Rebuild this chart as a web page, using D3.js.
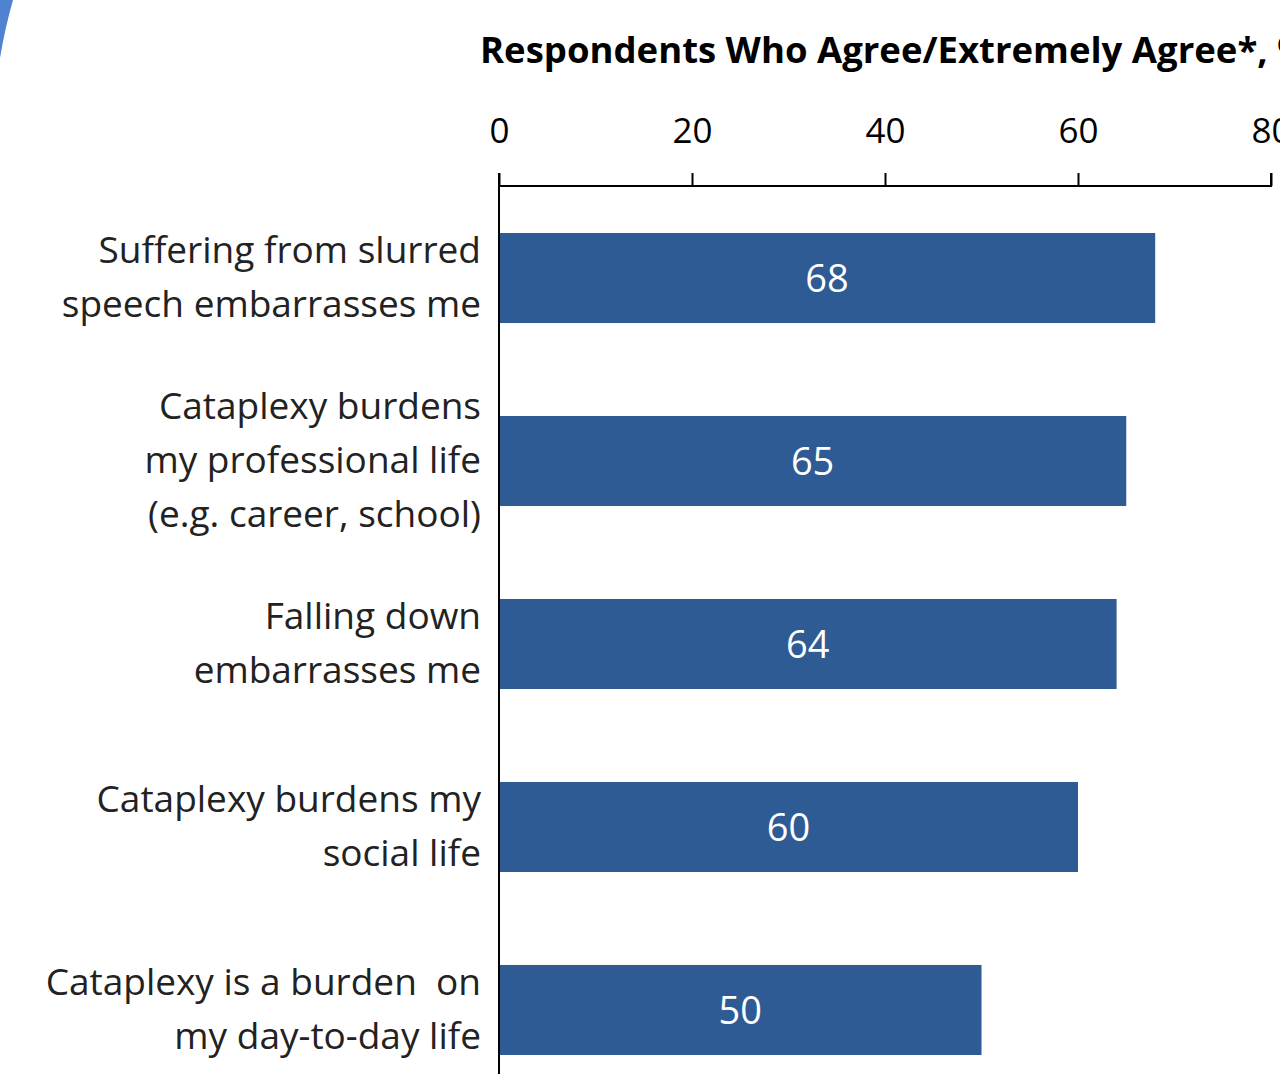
<!DOCTYPE html>
<html>
<head>
<meta charset="utf-8">
<script src="https://cdn.jsdelivr.net/npm/d3@7"></script>
<style>
  html, body { margin: 0; padding: 0; background: #fff; overflow: hidden; }
  svg { display: block; }
</style>
</head>
<body>
<svg id="chart" width="1280" height="1074"></svg>
<script>
// Survey statements (one per bar; lines are pre-broken)
const categories = [
  ["Suffering from slurred", "speech embarrasses me"],
  ["Cataplexy burdens", "my professional life", "(e.g. career, school)"],
  ["Falling down", "embarrasses me"],
  ["Cataplexy burdens my", "social life"],
  ["Cataplexy is a burden  on", "my day-to-day life"]
];
const values = [68, 65, 64, 60, 50];
const tickValues = [0, 20, 40, 60, 80];
const axisTitle = "Respondents Who Agree/Extremely Agree*, %";

const svg = d3.select("#chart");
const font = "'Open Sans', Lato, sans-serif";

// decorative arc in the upper-left corner
svg.append("path")
  .attr("d", "M0,0 L13,0 Q5,28 0,58 Z")
  .attr("fill", "#4f83d1");

const x = d3.scaleLinear().domain([0, 80]).range([499, 1271]);
const y = d3.scaleBand()
  .domain(d3.range(values.length))
  .range([233, 1055])
  .paddingInner(0.508)
  .paddingOuter(0);

// top axis
const axisY = 186;
const axis = d3.axisTop(x).tickValues(tickValues).tickSize(13).tickPadding(0).tickFormat(d3.format("d"));
const gx = svg.append("g").attr("transform", `translate(0,${axisY})`).call(axis);
gx.select(".domain").attr("d", `M${x(0)},-13V0H${x(80)}V-13`).attr("stroke", "#000").attr("stroke-width", 2);
gx.selectAll(".tick line").attr("stroke", "#000").attr("stroke-width", 2);
gx.selectAll(".tick text")
  .attr("y", -43)
  .attr("fill", "#000")
  .style("font-family", font)
  .style("font-size", "35px");

// vertical category axis line
svg.append("line")
  .attr("x1", x(0)).attr("x2", x(0))
  .attr("y1", axisY - 1).attr("y2", 1074)
  .attr("stroke", "#000").attr("stroke-width", 2);

// axis title (runs past the right edge of the canvas)
svg.append("text")
  .attr("x", 480).attr("y", 63)
  .attr("fill", "#000")
  .style("font-family", font)
  .style("font-weight", "bold")
  .style("font-size", "36.5px")
  .text(axisTitle);

// bars
svg.append("g").selectAll("rect")
  .data(values)
  .join("rect")
  .attr("x", x(0) + 1)
  .attr("y", (d, i) => y(i))
  .attr("width", d => x(d) - x(0) - 1)
  .attr("height", y.bandwidth())
  .attr("fill", "#2e5b93");

// value labels centred in bars
svg.append("g").selectAll("text")
  .data(values)
  .join("text")
  .attr("x", d => (x(0) + x(d)) / 2)
  .attr("y", (d, i) => y(i) + y.bandwidth() / 2 + 14)
  .attr("text-anchor", "middle")
  .attr("fill", "#fff")
  .style("font-family", font)
  .style("font-size", "38px")
  .text(d => d);

// category labels, right aligned
const lineH = 54;
const labels = svg.append("g").selectAll("text")
  .data(categories)
  .join("text")
  .attr("text-anchor", "end")
  .attr("fill", "#222")
  .style("font-family", font)
  .style("font-size", "37px")
  .style("white-space", "pre")
  .attr("transform", (d, i) => {
    const cy = y(i) + y.bandwidth() / 2;
    const top = cy - (d.length - 1) * lineH / 2 + 12;
    return `translate(481,${top})`;
  });
labels.selectAll("tspan")
  .data(d => d)
  .join("tspan")
  .attr("x", 0)
  .attr("dy", (d, j) => j === 0 ? 0 : lineH)
  .text(d => d);
</script>
</body>
</html>
